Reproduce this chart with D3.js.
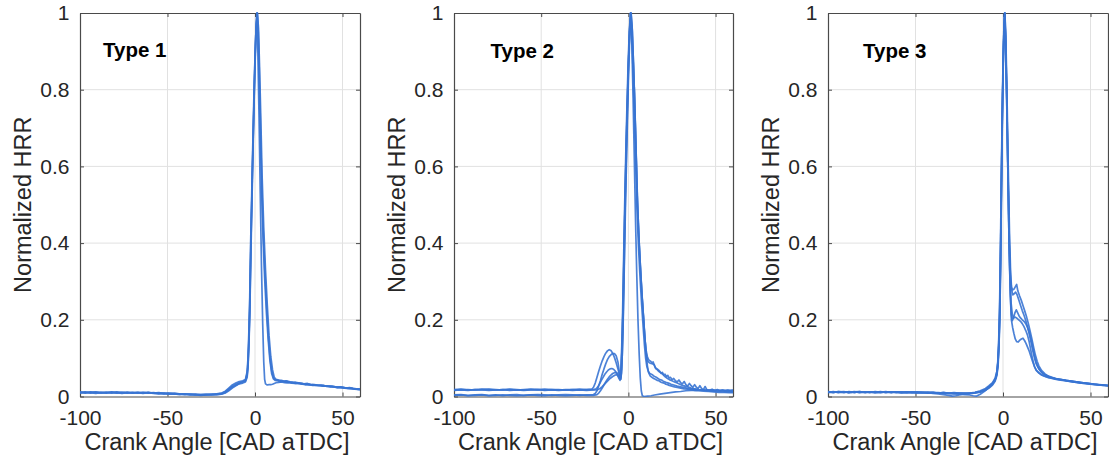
<!DOCTYPE html>
<html><head><meta charset="utf-8">
<script src="https://cdn.jsdelivr.net/npm/d3@7"></script>
<style>body{margin:0;background:#fff;} svg{display:block;font-family:"Liberation Sans",Arial,Helvetica,sans-serif;}</style>
</head><body><svg id="c" width="1109" height="458"></svg>
<script>
const xTicks=[-100,-50,0,50];
const yTicks=[0,0.2,0.4,0.6,0.8,1];
const xTickLabels=["-100","-50","0","50"];
const yTickLabels=["0","0.2","0.4","0.6","0.8","1"];
const panelTitles=["Type 1","Type 2","Type 3"];
const xLabel="Crank Angle [CAD aTDC]";
const yLabel="Normalized HRR";

// ---- Type 1 cycles ----
const t1a=[[-100,.011],[-97,.009],[-94,.012],[-91,.010],[-88,.011],[-85,.009],[-82,.012],[-79,.010],[-76,.011],[-73,.009],[-70,.011],[-67,.010],[-64,.011],[-61,.009],[-58,.010],[-55,.008],[-52,.009],[-49,.007],[-46,.008],[-43,.006],[-40,.007],[-37,.005],[-34,.006],[-31,.004],[-28,.005],[-25,.006],[-22,.006],[-19,.008],[-17,.012],[-15,.020],[-13,.027],[-11,.032],[-9,.036],[-7,.039],[-5.5,.042],[-4.5,.06],[-4,.09],[-3.5,.15],[-3,.24],[-2.5,.37],[-2,.48],[-1.5,.59],[-1,.69],[-0.5,.79],[0,.88],[0.6,.96],[1.2,1.0],[1.8,.94],[2.4,.82],[3,.69],[3.8,.53],[4.6,.41],[5.5,.31],[6.5,.22],[7.5,.15],[8.5,.095],[9.5,.06],[10.5,.046],[11.5,.042],[13,.041],[14.5,.038],[16,.040],[17.5,.037],[19,.036],[21,.037],[23,.034],[25,.035],[27,.032],[29,.033],[31,.030],[33,.031],[35,.029],[37,.030],[39,.027],[41,.028],[43,.026],[45,.026],[47,.024],[49,.025],[51,.023],[53,.022],[55,.022],[57,.020],[60,.019]];
const t1b=[[-100,.009],[-97,.011],[-94,.010],[-91,.008],[-88,.010],[-85,.011],[-82,.009],[-79,.010],[-76,.008],[-73,.010],[-70,.009],[-67,.011],[-64,.009],[-61,.010],[-58,.008],[-55,.009],[-52,.007],[-49,.008],[-46,.006],[-43,.007],[-40,.005],[-37,.006],[-34,.004],[-31,.005],[-28,.004],[-25,.005],[-22,.005],[-19,.007],[-17,.010],[-15,.017],[-13,.024],[-11,.029],[-9,.033],[-7,.035],[-5.5,.038],[-4.5,.05],[-4,.075],[-3.5,.13],[-3,.21],[-2.5,.33],[-2,.45],[-1.5,.56],[-1,.67],[-0.5,.77],[0,.86],[0.6,.95],[1.3,1.0],[1.9,.95],[2.5,.84],[3.1,.71],[3.9,.55],[4.7,.43],[5.6,.33],[6.6,.24],[7.6,.16],[8.6,.10],[9.6,.065],[10.6,.048],[11.6,.044],[13,.043],[14.5,.041],[16,.039],[17.5,.040],[19,.038],[21,.036],[23,.037],[25,.034],[27,.034],[29,.031],[31,.032],[33,.030],[35,.030],[37,.028],[39,.029],[41,.026],[43,.027],[45,.025],[47,.024],[49,.023],[51,.023],[53,.021],[55,.021],[57,.019],[60,.018]];
const t1c=[[-100,.010],[-97,.012],[-94,.009],[-91,.011],[-88,.009],[-85,.010],[-82,.011],[-79,.009],[-76,.010],[-73,.011],[-70,.009],[-67,.010],[-64,.008],[-61,.010],[-58,.009],[-55,.007],[-52,.008],[-49,.006],[-46,.007],[-43,.005],[-40,.006],[-37,.004],[-34,.005],[-31,.003],[-28,.004],[-25,.004],[-22,.005],[-19,.006],[-17,.009],[-15,.015],[-13,.022],[-11,.028],[-9,.034],[-7,.038],[-5.5,.040],[-4.5,.055],[-4,.08],[-3.5,.14],[-3,.22],[-2.5,.35],[-2,.47],[-1.5,.58],[-1,.68],[-0.5,.78],[0,.87],[0.5,.95],[1.0,1.0],[1.6,.91],[2.3,.73],[3,.53],[3.7,.34],[4.4,.19],[5,.09],[5.5,.045],[6,.033],[7,.030],[8,.031],[9,.031],[10,.032],[11,.034],[12,.036],[13.5,.037],[15,.038],[17,.036],[19,.037],[21,.035],[23,.034],[25,.034],[27,.032],[29,.031],[31,.031],[33,.029],[35,.029],[37,.028],[39,.027],[41,.027],[43,.025],[45,.025],[47,.023],[49,.023],[51,.022],[53,.021],[55,.020],[57,.020],[60,.018]];
const t1d=[[-100,.012],[-97,.010],[-94,.011],[-91,.012],[-88,.010],[-85,.011],[-82,.010],[-79,.012],[-76,.010],[-73,.011],[-70,.010],[-67,.009],[-64,.010],[-61,.011],[-58,.009],[-55,.010],[-52,.008],[-49,.009],[-46,.008],[-43,.007],[-40,.006],[-37,.006],[-34,.005],[-31,.005],[-28,.006],[-25,.005],[-22,.007],[-19,.009],[-17,.014],[-15,.022],[-13,.030],[-11,.035],[-9,.039],[-7,.041],[-5.5,.044],[-4.5,.065],[-4,.10],[-3.5,.17],[-3,.26],[-2.5,.40],[-2,.50],[-1.5,.61],[-1,.71],[-0.5,.81],[0.1,.90],[0.7,.97],[1.4,1.0],[2.0,.96],[2.6,.86],[3.3,.73],[4.1,.57],[5.0,.44],[6.0,.33],[7.0,.24],[8.0,.16],[9.0,.105],[10,.07],[11,.05],[12,.045],[13.5,.043],[15,.042],[16.5,.040],[18,.041],[20,.038],[22,.037],[24,.036],[26,.035],[28,.033],[30,.034],[32,.031],[34,.031],[36,.029],[38,.030],[40,.028],[42,.027],[44,.027],[46,.025],[48,.025],[50,.024],[52,.022],[54,.023],[56,.021],[58,.020],[60,.020]];

// ---- Type 2 cycles ----
const t2a=[[-100,.018],[-96,.019],[-92,.017],[-88,.018],[-84,.019],[-80,.018],[-76,.017],[-72,.018],[-68,.019],[-64,.018],[-60,.017],[-56,.018],[-52,.018],[-48,.019],[-44,.018],[-40,.017],[-36,.018],[-32,.018],[-28,.017],[-24,.018],[-21,.019],[-20,.024],[-19,.035],[-18,.05],[-17,.066],[-16,.08],[-15,.093],[-14,.104],[-13,.113],[-12,.119],[-11,.122],[-10,.12],[-9,.113],[-8,.102],[-7,.088],[-6,.072],[-5,.055],[-4.3,.045],[-3.8,.07],[-3.3,.14],[-2.8,.25],[-2.3,.37],[-1.8,.5],[-1.3,.6],[-0.8,.7],[-0.3,.79],[0.3,.9],[1.3,1.0],[2,.96],[2.7,.88],[3.4,.8],[4.2,.67],[5,.53],[5.9,.42],[6.8,.34],[7.7,.27],[8.6,.21],[9.3,.16],[10,.125],[10.8,.105],[11.5,.097],[12,.094],[12.8,.092],[13.5,.088],[14.2,.09],[15,.08],[15.8,.072],[16.5,.07],[17.3,.066],[18,.064],[18.8,.06],[19.5,.063],[20.3,.056],[21,.058],[21.8,.052],[22.6,.055],[23.4,.048],[24.2,.05],[25,.044],[26,.047],[27,.041],[28,.038],[29,.043],[30,.036],[31,.033],[32,.039],[33,.031],[34,.027],[35,.034],[36,.028],[37,.024],[38,.031],[39,.024],[40,.021],[41,.028],[42,.021],[43,.018],[44,.026],[45,.018],[46.5,.016],[48,.019],[49.5,.015],[51,.018],[52.5,.015],[54,.017],[55.5,.014],[57,.017],[58.5,.014],[60,.016]];
const t2b=[[-100,.004],[-96,.005],[-92,.003],[-88,.004],[-84,.005],[-80,.003],[-76,.004],[-72,.002],[-68,.004],[-64,.005],[-60,.003],[-56,.004],[-52,.005],[-48,.004],[-44,.003],[-40,.004],[-36,.005],[-32,.004],[-28,.003],[-24,.004],[-20,.005],[-19,.008],[-18,.015],[-17,.028],[-16,.042],[-15,.058],[-14,.072],[-13,.085],[-12,.096],[-11,.104],[-10,.109],[-9,.112],[-8,.112],[-7,.106],[-6,.09],[-5.2,.065],[-4.6,.05],[-4.1,.07],[-3.6,.13],[-3.1,.22],[-2.6,.34],[-2.1,.46],[-1.6,.57],[-1.1,.67],[-0.6,.76],[0,.86],[0.8,.96],[1.6,1.0],[2.3,.95],[3,.86],[3.7,.76],[4.5,.63],[5.3,.5],[6.2,.4],[7.1,.32],[8,.25],[8.9,.19],[9.6,.145],[10.3,.11],[11,.093],[12,.088],[13,.086],[14,.085],[14.8,.083],[15.5,.075],[16.5,.072],[17.5,.068],[18.5,.063],[19.5,.059],[20.5,.054],[21.5,.05],[22.5,.047],[23.5,.044],[25,.041],[26.5,.038],[28,.035],[29.5,.032],[31,.029],[32.5,.027],[34,.025],[36,.022],[38,.02],[40,.018],[42,.017],[44,.016],[46,.015],[48,.014],[50,.014],[52,.013],[54,.013],[56,.012],[58,.012],[60,.012]];
const t2c=[[-100,.017],[-96,.018],[-92,.018],[-88,.017],[-84,.018],[-80,.019],[-76,.018],[-72,.017],[-68,.018],[-64,.017],[-60,.018],[-56,.019],[-52,.018],[-48,.017],[-44,.018],[-40,.018],[-36,.017],[-32,.018],[-28,.019],[-24,.018],[-20,.018],[-18.5,.02],[-17.5,.025],[-16.5,.033],[-15.5,.042],[-14.5,.05],[-13.5,.058],[-12.5,.064],[-11.5,.069],[-10.5,.072],[-9.5,.073],[-8.5,.071],[-7.5,.066],[-6.5,.058],[-5.5,.048],[-4.8,.042],[-4.2,.06],[-3.7,.12],[-3.2,.21],[-2.7,.33],[-2.2,.45],[-1.7,.56],[-1.2,.66],[-0.7,.75],[-0.1,.85],[0.6,.95],[1.3,1.0],[2,.92],[2.7,.78],[3.4,.62],[4.1,.46],[4.8,.32],[5.5,.2],[6.2,.11],[6.8,.05],[7.4,.015],[8,.002],[9,0],[11,.001],[13,.002],[15,.004],[18,.006],[21,.008],[24,.01],[27,.012],[30,.013],[33,.015],[36,.016],[39,.016],[42,.017],[45,.016],[48,.017],[51,.016],[54,.017],[57,.016],[60,.017]];
const t2d=[[-100,.003],[-96,.004],[-92,.002],[-88,.003],[-84,.004],[-80,.002],[-76,.003],[-72,.004],[-68,.003],[-64,.002],[-60,.003],[-56,.004],[-52,.003],[-48,.002],[-44,.004],[-40,.003],[-36,.002],[-32,.003],[-28,.004],[-24,.003],[-20,.003],[-18,.005],[-17,.009],[-16,.015],[-15,.022],[-14,.03],[-13,.038],[-12,.045],[-11,.051],[-10,.056],[-9,.06],[-8,.062],[-7,.063],[-6,.06],[-5.2,.052],[-4.5,.045],[-4,.06],[-3.5,.11],[-3,.19],[-2.5,.3],[-2,.42],[-1.5,.53],[-1,.63],[-0.5,.73],[0.1,.84],[0.8,.94],[1.5,1.0],[2.2,.96],[2.9,.87],[3.6,.77],[4.4,.64],[5.2,.51],[6.1,.41],[7,.33],[7.9,.26],[8.8,.2],[9.5,.15],[10.2,.11],[10.9,.08],[11.6,.062],[12.5,.054],[13.5,.05],[14.5,.047],[15.5,.045],[16.5,.042],[17.5,.041],[18.5,.038],[19.5,.036],[20.5,.035],[21.5,.032],[22.5,.031],[23.5,.029],[25,.027],[26.5,.025],[28,.024],[30,.022],[32,.02],[34,.019],[36,.018],[38,.016],[40,.015],[43,.014],[46,.013],[49,.012],[52,.011],[55,.011],[58,.01],[60,.01]];
const t2e=[[-100,.016],[-96,.017],[-92,.016],[-88,.018],[-84,.017],[-80,.016],[-76,.017],[-72,.018],[-68,.016],[-64,.017],[-60,.016],[-56,.017],[-52,.018],[-48,.016],[-44,.017],[-40,.016],[-36,.017],[-32,.016],[-28,.017],[-24,.016],[-20,.017],[-18,.017],[-16.5,.02],[-15,.026],[-13.5,.033],[-12,.04],[-10.5,.047],[-9,.052],[-7.5,.056],[-6.5,.057],[-5.5,.052],[-4.8,.045],[-4.3,.07],[-3.8,.13],[-3.3,.22],[-2.8,.34],[-2.3,.46],[-1.8,.57],[-1.3,.67],[-0.8,.76],[-0.2,.86],[0.5,.95],[1.2,1.0],[1.9,.95],[2.6,.86],[3.3,.75],[4.1,.62],[4.9,.49],[5.8,.39],[6.7,.31],[7.6,.24],[8.5,.18],[9.2,.135],[9.9,.1],[10.6,.078],[11.4,.066],[12.3,.06],[13.2,.058],[14,.056],[15,.052],[16,.05],[17,.047],[18,.044],[19,.043],[20,.04],[21.5,.037],[23,.035],[24.5,.032],[26,.03],[28,.027],[30,.025],[32,.023],[34,.021],[36,.02],[38,.019],[40,.018],[43,.017],[46,.016],[49,.016],[52,.015],[55,.015],[58,.014],[60,.014]];

// ---- Type 3 cycles ----
const t3a=[[-100,.012],[-97,.010],[-94,.013],[-91,.011],[-88,.012],[-85,.010],[-82,.013],[-79,.011],[-76,.012],[-73,.010],[-70,.012],[-67,.011],[-64,.012],[-61,.010],[-58,.011],[-55,.010],[-52,.012],[-49,.010],[-46,.011],[-43,.009],[-40,.010],[-37,.009],[-34,.010],[-31,.008],[-28,.009],[-25,.008],[-22,.009],[-19,.008],[-16,.010],[-13,.013],[-10,.019],[-8,.026],[-6,.034],[-4.5,.045],[-3.5,.06],[-3,.085],[-2.5,.13],[-2,.2],[-1.5,.34],[-1,.53],[-0.5,.71],[0,.85],[0.5,.95],[1,1.0],[1.5,.93],[2.1,.8],[2.8,.6],[3.6,.41],[4.2,.32],[4.8,.285],[5.5,.278],[6.3,.28],[7,.286],[7.8,.292],[8.5,.275],[9.5,.262],[10.5,.25],[11.5,.236],[12.5,.222],[13.5,.207],[14.5,.19],[15.5,.17],[16.5,.15],[17.5,.128],[18.5,.108],[19.5,.092],[20.5,.08],[22,.068],[24,.059],[26,.053],[28,.05],[30,.047],[33,.045],[36,.042],[39,.04],[42,.038],[45,.036],[48,.034],[51,.033],[54,.031],[57,.030],[60,.028]];
const t3b=[[-100,.010],[-97,.012],[-94,.011],[-91,.013],[-88,.010],[-85,.012],[-82,.011],[-79,.012],[-76,.010],[-73,.012],[-70,.010],[-67,.012],[-64,.011],[-61,.012],[-58,.010],[-55,.011],[-52,.010],[-49,.011],[-46,.010],[-43,.010],[-40,.008],[-37,.007],[-34,.005],[-31,.003],[-29,.001],[-27,.002],[-25,.004],[-23,.006],[-21,.007],[-19,.008],[-16,.009],[-13,.011],[-10,.016],[-8,.022],[-6,.030],[-4.5,.04],[-3.5,.055],[-2.8,.08],[-2.3,.13],[-1.8,.21],[-1.3,.36],[-0.8,.56],[-0.3,.74],[0.2,.88],[0.7,.97],[1.1,1.0],[1.6,.94],[2.2,.81],[2.9,.62],[3.7,.43],[4.3,.33],[4.9,.28],[5.6,.265],[6.4,.268],[7.2,.272],[8,.266],[9,.252],[10,.238],[11,.224],[12,.212],[13,.198],[14,.182],[15,.163],[16,.142],[17,.12],[18,.1],[19,.085],[20.5,.072],[22,.063],[24,.057],[26,.052],[28,.049],[30,.046],[33,.044],[36,.041],[39,.039],[42,.037],[45,.035],[48,.034],[51,.032],[54,.031],[57,.029],[60,.028]];
const t3c=[[-100,.013],[-97,.011],[-94,.012],[-91,.010],[-88,.013],[-85,.011],[-82,.012],[-79,.010],[-76,.012],[-73,.011],[-70,.013],[-67,.010],[-64,.012],[-61,.011],[-58,.012],[-55,.010],[-52,.011],[-49,.012],[-46,.010],[-43,.011],[-40,.010],[-37,.009],[-34,.010],[-31,.009],[-28,.008],[-25,.009],[-22,.008],[-19,.009],[-16,.011],[-13,.015],[-10,.021],[-8,.028],[-6,.036],[-4.5,.048],[-3.5,.065],[-3,.09],[-2.5,.14],[-2,.22],[-1.5,.37],[-1,.56],[-0.5,.73],[0,.87],[0.5,.96],[1,1.0],[1.5,.92],[2.1,.78],[2.8,.58],[3.5,.39],[4.1,.28],[4.7,.215],[5.3,.198],[6,.205],[6.8,.218],[7.6,.226],[8.4,.218],[9.2,.21],[10,.205],[11,.2],[12,.196],[13,.19],[14,.18],[15,.168],[16,.15],[17,.128],[18,.106],[19,.088],[20,.076],[21.5,.066],[23,.059],[25,.054],[27,.05],[29,.048],[32,.045],[35,.043],[38,.041],[41,.039],[44,.037],[47,.035],[50,.033],[53,.032],[56,.030],[60,.029]];
const t3d=[[-100,.011],[-97,.013],[-94,.010],[-91,.012],[-88,.011],[-85,.013],[-82,.010],[-79,.012],[-76,.011],[-73,.013],[-70,.011],[-67,.012],[-64,.010],[-61,.012],[-58,.011],[-55,.012],[-52,.010],[-49,.011],[-46,.010],[-43,.011],[-40,.010],[-37,.010],[-34,.009],[-31,.008],[-28,.007],[-25,.006],[-22,.005],[-19,.004],[-17,.002],[-15,.001],[-13,.006],[-11,.012],[-9,.02],[-7,.028],[-5.5,.036],[-4.2,.048],[-3.3,.07],[-2.7,.1],[-2.2,.15],[-1.7,.25],[-1.2,.42],[-0.7,.62],[-0.2,.79],[0.3,.92],[0.8,.99],[1.1,1.0],[1.6,.92],[2.2,.77],[2.9,.57],[3.6,.38],[4.2,.26],[4.8,.2],[5.5,.18],[6.2,.165],[7,.15],[7.8,.143],[8.7,.142],[9.6,.147],[10.5,.15],[11.4,.152],[12.3,.146],[13.2,.138],[14.1,.128],[15,.118],[16,.104],[17,.09],[18,.078],[19,.069],[20.5,.062],[22,.057],[24,.053],[26,.05],[28,.048],[31,.045],[34,.043],[37,.041],[40,.039],[43,.037],[46,.035],[49,.034],[52,.032],[55,.031],[58,.030],[60,.029]];
const t3e=[[-100,.012],[-97,.011],[-94,.013],[-91,.012],[-88,.010],[-85,.012],[-82,.013],[-79,.011],[-76,.012],[-73,.010],[-70,.011],[-67,.013],[-64,.011],[-61,.012],[-58,.010],[-55,.012],[-52,.011],[-49,.010],[-46,.011],[-43,.010],[-40,.011],[-37,.009],[-34,.010],[-31,.009],[-28,.010],[-25,.009],[-22,.008],[-19,.009],[-16,.010],[-13,.012],[-10,.017],[-8,.024],[-6,.032],[-4.5,.043],[-3.5,.058],[-3,.08],[-2.5,.12],[-2,.19],[-1.5,.33],[-1,.52],[-0.5,.7],[0,.84],[0.5,.94],[0.9,1.0],[1.4,.94],[2,.8],[2.7,.61],[3.4,.42],[4,.31],[4.6,.245],[5.3,.215],[6,.205],[7,.207],[8,.204],[9,.2],[10,.196],[11,.19],[12,.182],[13,.172],[14,.16],[15,.142],[16,.118],[17,.095],[18,.078],[19,.068],[20.5,.061],[22,.056],[24,.052],[26,.049],[28,.047],[31,.044],[34,.042],[37,.04],[40,.038],[43,.036],[46,.034],[49,.033],[52,.031],[55,.030],[58,.029],[60,.028]];

const type1=[t1a,t1b,t1c,t1d];
const type2=[t2a,t2b,t2c,t2d,t2e];
const type3=[t3a,t3b,t3c,t3d,t3e];

const svg=d3.select("#c");
const layout=[
  {left:80, right:360, titleDx:23, titleY:57, curves:type1},
  {left:454, right:733, titleDx:36.5, titleY:58, curves:type2},
  {left:828, right:1108, titleDx:35, titleY:58, curves:type3}
];
const TOP=13, BOTTOM=396.5;
const axisColor="#4a4a4a", textColor="#262626", lineColor="#3874d3";

layout.forEach((p,i)=>{
  const x=d3.scaleLinear().domain([-100,60]).range([p.left,p.right]);
  const y=d3.scaleLinear().domain([0,1]).range([BOTTOM,TOP]);
  const g=svg.append("g");
  // grid
  g.append("g").selectAll("line").data(xTicks.filter(t=>t>-100)).join("line")
    .attr("x1",d=>x(d)).attr("x2",d=>x(d)).attr("y1",TOP).attr("y2",BOTTOM)
    .attr("stroke","#e1e1e1").attr("stroke-width",1);
  g.append("g").selectAll("line").data(yTicks.filter(t=>t>0&&t<1)).join("line")
    .attr("x1",p.left).attr("x2",p.right).attr("y1",d=>y(d)).attr("y2",d=>y(d))
    .attr("stroke","#e1e1e1").attr("stroke-width",1);

  // axes
  const fmtX=d=>xTickLabels[xTicks.indexOf(d)];
  const fmtY=d=>yTickLabels[yTicks.indexOf(d)];
  const ax=[
    g.append("g").attr("transform",`translate(0,${BOTTOM})`).call(d3.axisBottom(x).tickValues(xTicks).tickFormat(fmtX).tickSize(-4).tickSizeOuter(0).tickPadding(13.6)),
    g.append("g").attr("transform",`translate(0,${TOP})`).call(d3.axisTop(x).tickValues(xTicks).tickFormat("").tickSize(-4).tickSizeOuter(0)),
    g.append("g").attr("transform",`translate(${p.left},0)`).call(d3.axisLeft(y).tickValues(yTicks).tickFormat(fmtY).tickSize(-4).tickSizeOuter(0).tickPadding(10.5)),
    g.append("g").attr("transform",`translate(${p.right},0)`).call(d3.axisRight(y).tickValues(yTicks).tickFormat("").tickSize(-4).tickSizeOuter(0))
  ];
  ax.forEach(a=>{
    a.select(".domain").attr("stroke",axisColor).attr("stroke-width",1.2);
    a.selectAll(".tick line").attr("stroke",axisColor);
    a.selectAll("text").attr("fill",textColor).style("font-size","21px")
      .style("font-family",'"Liberation Sans",Arial,sans-serif');
  });

  // curves
  const clipId="clip"+i;
  svg.append("clipPath").attr("id",clipId).append("rect")
    .attr("x",p.left).attr("y",TOP-1.5).attr("width",p.right-p.left).attr("height",BOTTOM-TOP+2);
  const line=d3.line().x(d=>x(d[0])).y(d=>y(d[1]));
  g.append("g").attr("clip-path",`url(#${clipId})`).selectAll("path").data(p.curves).join("path")
    .attr("d",line).attr("fill","none").attr("stroke",lineColor).attr("stroke-width",1.7)
    .attr("stroke-linejoin","round").attr("stroke-opacity",0.9);

  // title
  g.append("text").attr("x",p.left+p.titleDx).attr("y",p.titleY).text(panelTitles[i])
    .attr("font-weight","bold").attr("font-size","20.5px").attr("fill","#000");

  // axis labels
  g.append("text").attr("x",(p.left+p.right)/2-3).attr("y",450).attr("text-anchor","middle")
    .attr("font-size","23.5px").attr("fill",textColor).text(xLabel);
  g.append("text").attr("transform",`translate(${p.left-49.5},${(TOP+BOTTOM)/2}) rotate(-90)`)
    .attr("text-anchor","middle").attr("font-size","23.5px").attr("fill",textColor).text(yLabel);
});
</script></body></html>
